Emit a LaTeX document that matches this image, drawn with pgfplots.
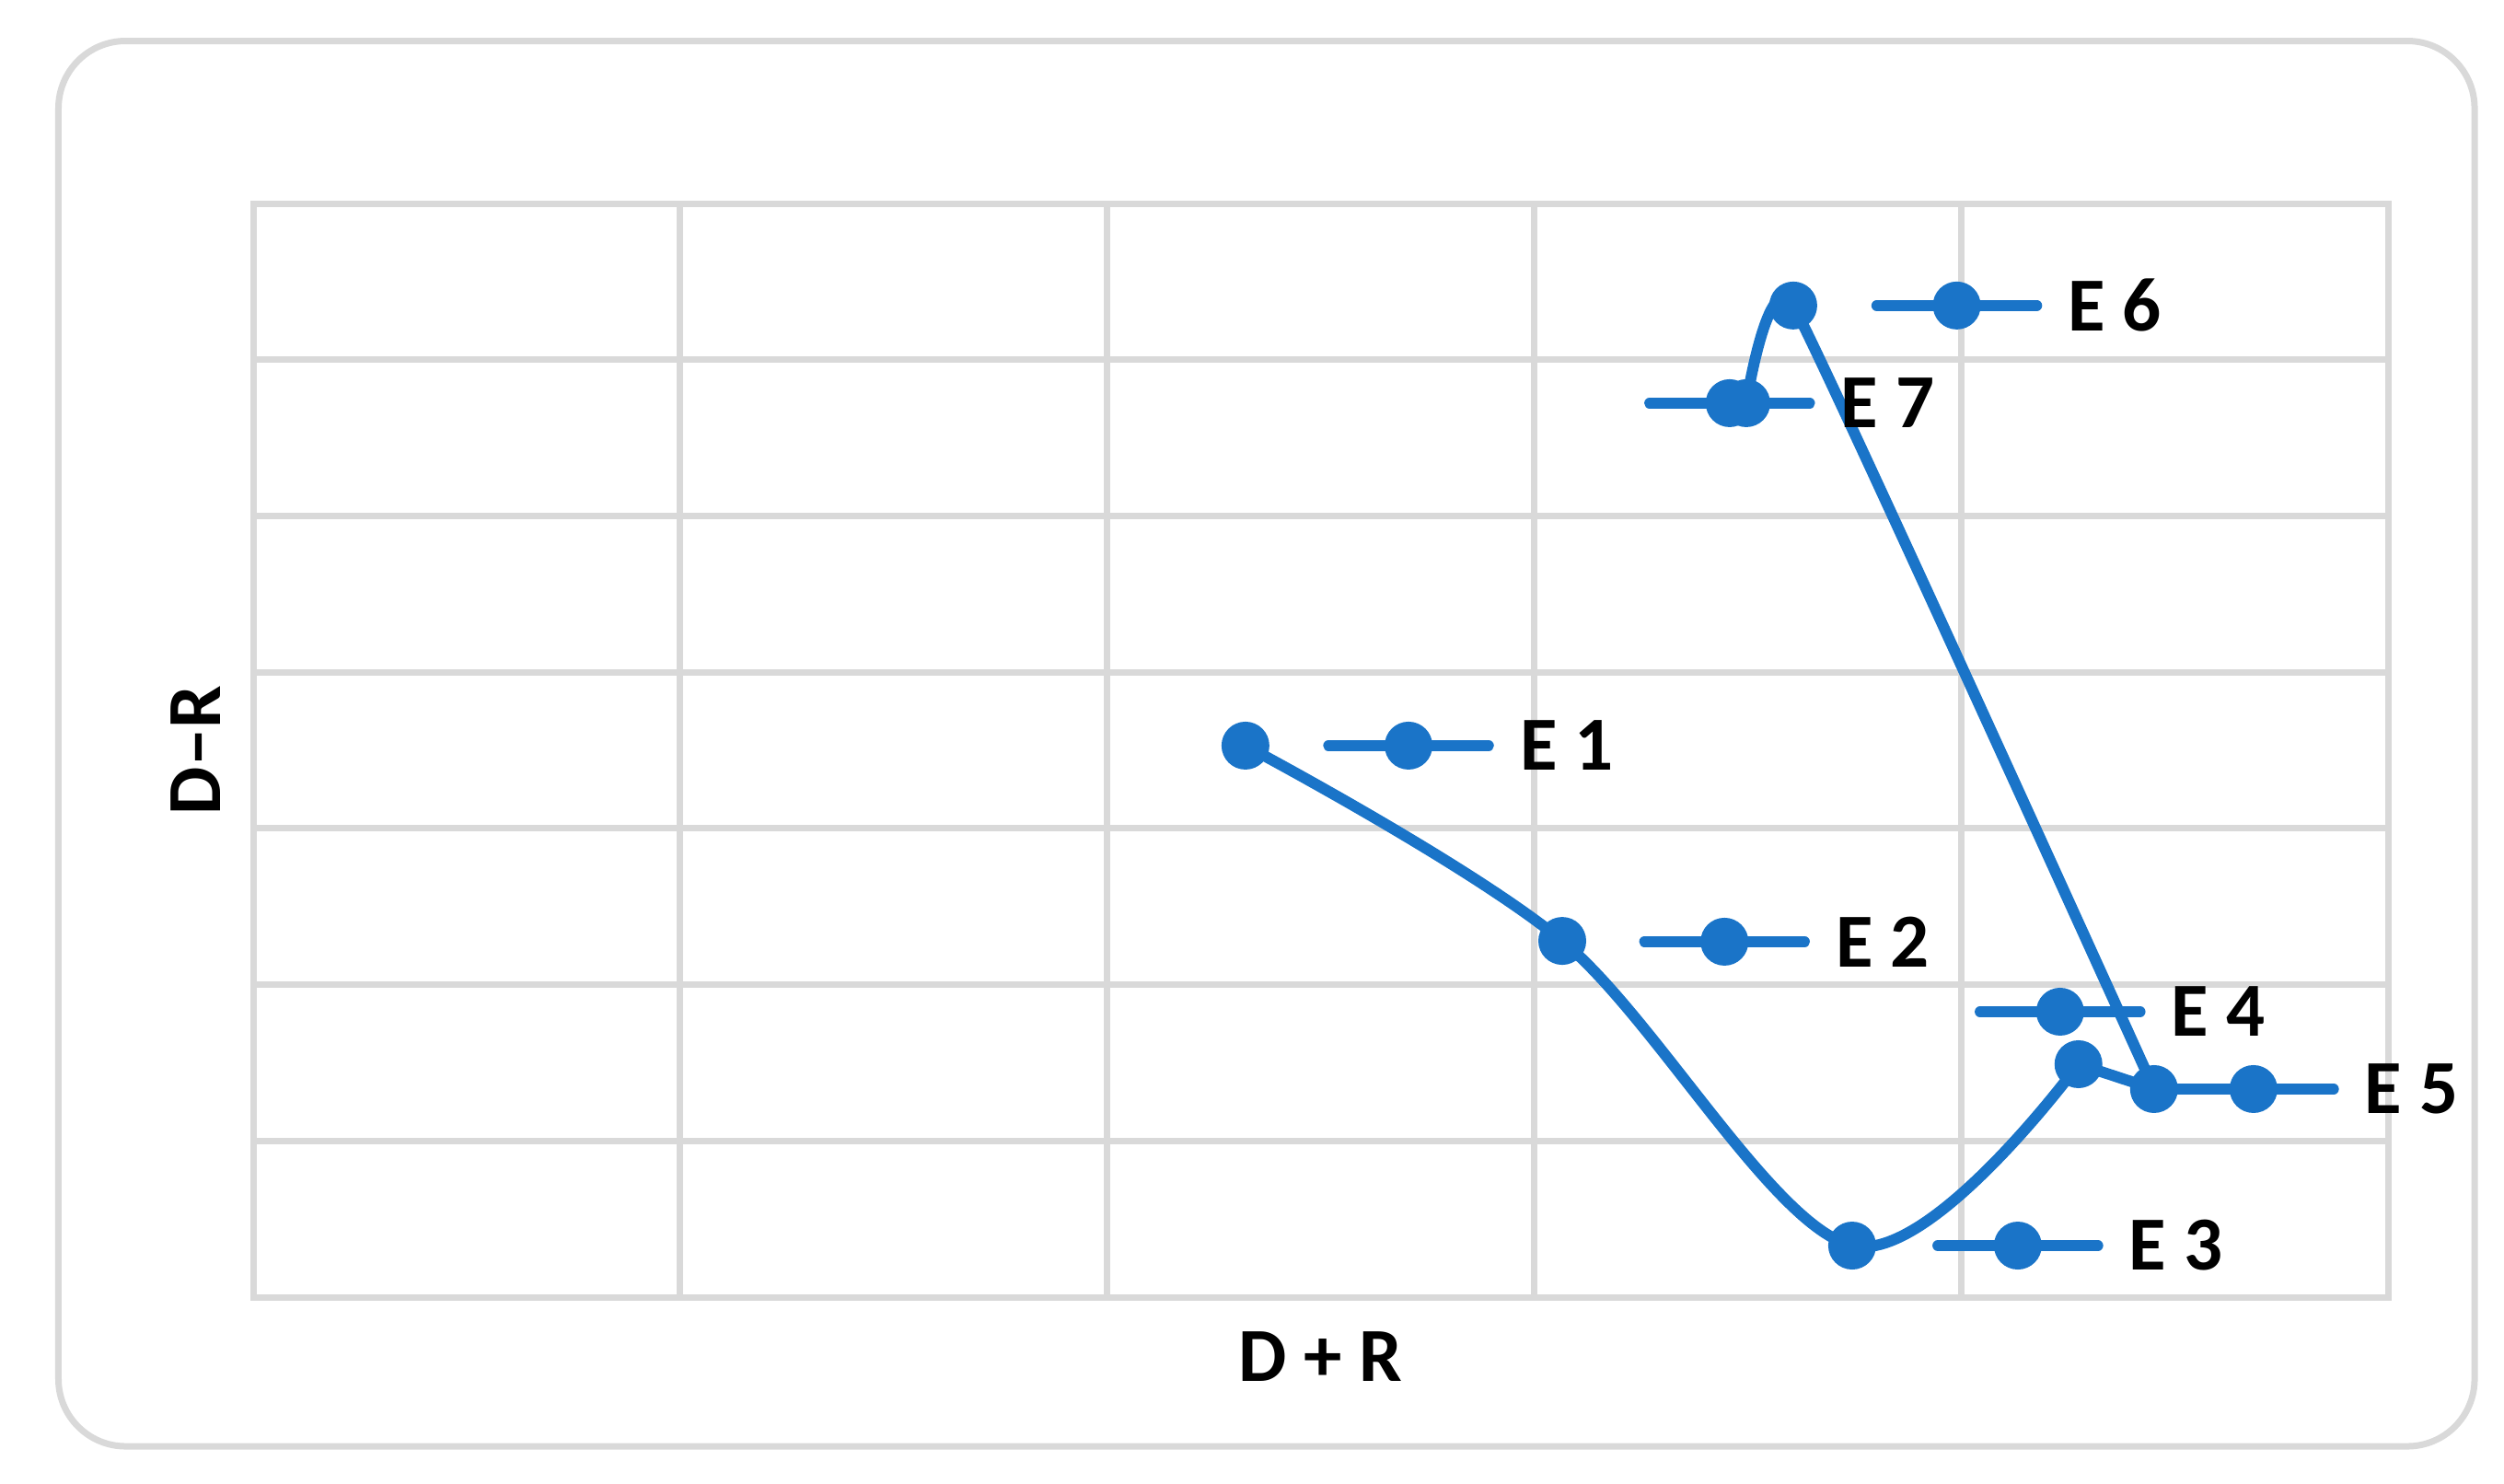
\documentclass[border=0pt]{standalone}
\usepackage{fontspec}
\setmainfont{Carlito}
\usepackage{pgfplots}
\usepackage{pgfplotstable}
\pgfplotsset{compat=1.18}
\definecolor{ser}{HTML}{1A74C8}
\definecolor{grd}{HTML}{D9D9D9}

% points, in chart order
\pgfplotstableread{
x     y
2.324 3.530
3.066 2.280
3.745 0.330
4.275 1.491
4.452 1.332
3.607 6.347
3.497 5.722
}\pts

% the same line, in the three pieces that Excel smooths differently
\pgfplotstableread{
x     y
2.324 3.530
3.066 2.280
3.745 0.330
4.275 1.491
}\partA
\pgfplotstableread{
x     y
4.275 1.491
4.452 1.332
}\partB
\pgfplotstableread{
x     y
4.452 1.332
3.607 6.347
3.497 5.722
}\partC

% data labels (legend key + name), placed as in the chart
\pgfplotstableread{
x     y     lab
2.706 3.530 1
3.446 2.275 2
4.133 0.330 3
4.232 1.827 4
4.685 1.332 5
3.990 6.347 6
3.458 5.722 7
}\labs

\begin{document}
\begin{tikzpicture}
\draw[grd, line width=0.7pt, rounded corners=7.3pt] (-21.15pt,-16.2pt) rectangle (241.3pt,136.45pt);
\begin{axis}[
    scale only axis,
    width=231.9pt, height=118.8pt,
    xmin=0, xmax=5, ymin=0, ymax=7,
    xtick={0,...,5}, ytick={0,...,7},
    xticklabels={}, yticklabels={},
    major tick length=0pt,
    grid=major,
    grid style={grd, line width=0.7pt},
    axis line style={grd, line width=0.7pt},
    clip=false,
    font=\fontsize{8.3}{9.9}\selectfont\bfseries,
    xlabel={D + R},
    ylabel={D–R},
    xlabel style={at={(axis description cs:0.5,-0.0547)}, anchor=center, inner sep=0pt},
    ylabel style={at={(axis description cs:-0.0267,0.5)}, anchor=center, inner sep=0pt},
]
\addplot[ser, line width=1.2pt, smooth, tension=0.55, mark=none] table[x=x, y=y] {\partA};
\addplot[ser, line width=1.2pt, mark=none] table[x=x, y=y] {\partB};
\addplot[ser, line width=1.2pt, smooth, tension=0.22, mark=none] table[x=x, y=y] {\partC};
\addplot[ser, only marks, mark=*, mark size=2.4pt,
    mark options={draw=none, fill=ser}] table[x=x, y=y] {\pts};
\addplot[ser, only marks, mark=*, mark size=2.4pt,
    mark options={draw=none, fill=ser},
    error bars/.cd, x dir=both, x fixed=0.1876, error mark=none,
    error bar style={ser, line width=1.15pt, line cap=round}]
    table[x=x, y=y] {\labs};
\addplot[draw=none, mark=none,
    point meta=explicit symbolic,
    nodes near coords={E \pgfplotspointmeta},
    nodes near coords style={anchor=west, inner sep=0pt, xshift=11.9pt, text=black,
        font=\fontsize{8.3}{9.9}\selectfont\bfseries}]
    table[x=x, y=y, meta=lab] {\labs};
\end{axis}
\pgfresetboundingbox
\path[use as bounding box] (-27.5pt,-20.2pt) rectangle (244.5pt,140.9pt);
\end{tikzpicture}
\end{document}
